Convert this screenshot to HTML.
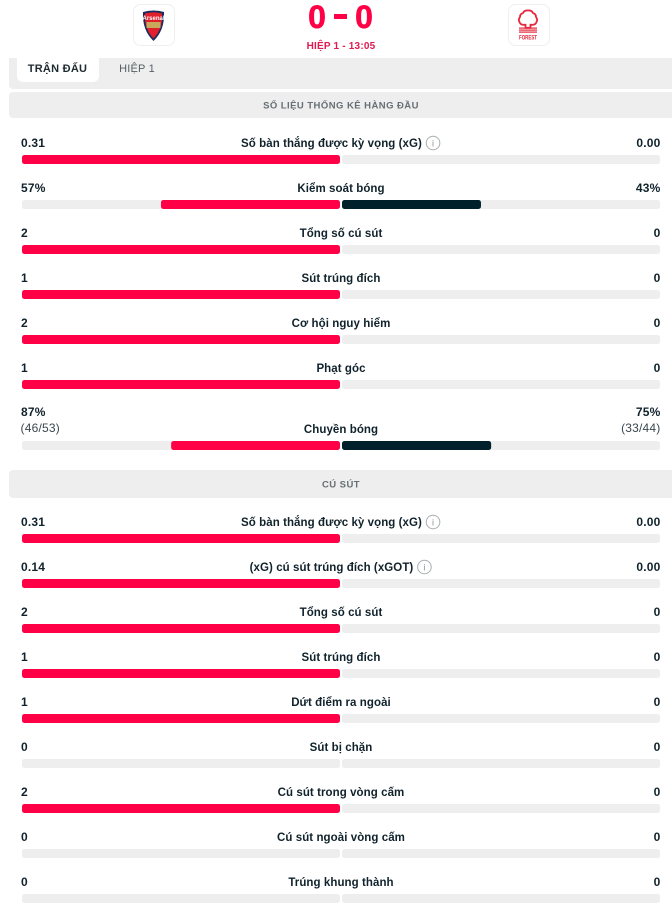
<!DOCTYPE html>
<html lang="vi">
<head>
<meta charset="utf-8">
<title>Thống kê trận đấu</title>
<style>
html,body{margin:0;padding:0;background:#fff;width:672px;height:904px;overflow:hidden}
svg{display:block;font-family:"Liberation Sans","Noto Sans CJK JP",sans-serif}
</style>
</head>
<body>
<svg id="chart" width="672" height="904" viewBox="0 0 672 904" xmlns="http://www.w3.org/2000/svg">
  <rect x="0" y="0" width="672" height="904" fill="#ffffff"/>

  <rect x="9" y="50" width="680" height="39" rx="4" fill="#eeeeee"/>
  <rect x="0" y="0" width="672" height="58" fill="#ffffff"/>
  <path d="M17 58H99V76a6 6 0 0 1-6 6H23a6 6 0 0 1-6-6Z" fill="#ffffff"/>
  <text x="57.500" y="72" text-anchor="middle" font-size="11" font-weight="700" letter-spacing=".25" fill="#1d2a30">TRẬN ĐẤU</text>
  <text x="137" y="72" text-anchor="middle" font-size="11" letter-spacing=".2" fill="#555f64">HIỆP 1</text>

  <g>
    <rect x="133.500" y="4.500" width="41" height="41" rx="7" fill="#fff" stroke="#efefef"/>
    <path d="M143 12Q153.500 9 164 12Q165 30 153.500 41Q142 30 143 12Z" fill="#1b2a5c"/>
    <path d="M145 13.500Q153.500 11 162 13.500Q163 29 153.500 38.500Q144 29 145 13.500Z" fill="#e0202c"/>
    <rect x="146.500" y="22" width="14" height="6" fill="#c8a85a"/>
    <text x="153.500" y="20" text-anchor="middle" font-size="6" font-weight="700" fill="#fff">Arsenal</text>
  </g>

  <text x="317" y="28" text-anchor="middle" font-size="32" font-weight="700" stroke="#ff0046" stroke-width=".6" fill="#ff0046">0</text>
  <rect x="334" y="14" width="13" height="5" fill="#ff0046"/>
  <text x="364" y="28" text-anchor="middle" font-size="32" font-weight="700" stroke="#ff0046" stroke-width=".6" fill="#ff0046">0</text>
  <text x="341" y="49" text-anchor="middle" font-size="10" font-weight="700" letter-spacing=".2" fill="#e0194f">HIỆP 1 - 13:05</text>

  <g>
    <rect x="508.500" y="4.500" width="41" height="41" rx="7" fill="#fff" stroke="#efefef"/>
    <path d="M528 10.500q3.500-.5 5 2.500q3 1 3 4q2 2.500 .5 5q-1 3-4.500 2.800h-1.500v3h-5v-3h-1.500q-3.500.2-4.500-2.800q-1.500-2.500 .5-5q0-3 3-4q1.500-3 5-2.500Z" fill="none" stroke="#e5283c" stroke-width="1.800"/>
    <rect x="519" y="27.500" width="18" height="1.200" fill="#e5283c"/>
    <rect x="519" y="29.500" width="18" height="1.200" fill="#e5283c"/>
    <rect x="519" y="31.500" width="18" height="1.200" fill="#e5283c"/>
    <text x="528" y="39.500" text-anchor="middle" font-size="6.500" font-weight="700" textLength="18" lengthAdjust="spacingAndGlyphs" fill="#e5283c">FOREST</text>
  </g>

  <g id="rows"></g>
</svg>

<script>
const sectionTitles = ["SỐ LIỆU THỐNG KÊ HÀNG ĐẦU", "CÚ SÚT"];
const statLabels = [
  ["Số bàn thắng được kỳ vọng (xG)", "Kiểm soát bóng", "Tổng số cú sút", "Sút trúng đích", "Cơ hội nguy hiểm", "Phạt góc", "Chuyền bóng"],
  ["Số bàn thắng được kỳ vọng (xG)", "(xG) cú sút trúng đích (xGOT)", "Tổng số cú sút", "Sút trúng đích", "Dứt điểm ra ngoài", "Sút bị chặn", "Cú sút trong vòng cấm", "Cú sút ngoài vòng cấm", "Trúng khung thành"]
];
const homeValues = [
  [0.31, 56.3, 2, 1, 2, 1, 53.1],
  [0.31, 0.14, 2, 1, 1, 0, 2, 0, 0]
];
const awayValues = [
  [0, 43.7, 0, 0, 0, 0, 46.9],
  [0, 0, 0, 0, 0, 0, 0, 0, 0]
];
const homeText = [
  ["0.31", "57%", "2", "1", "2", "1", "87%"],
  ["0.31", "0.14", "2", "1", "1", "0", "2", "0", "0"]
];
const awayText = [
  ["0.00", "43%", "0", "0", "0", "0", "75%"],
  ["0.00", "0.00", "0", "0", "0", "0", "0", "0", "0"]
];
const homeSubText = [["", "", "", "", "", "", "(46/53)"], ["", "", "", "", "", "", "", "", ""]];
const awaySubText = [["", "", "", "", "", "", "(33/44)"], ["", "", "", "", "", "", "", "", ""]];
const infoFlags = [[1, 0, 0, 0, 0, 0, 0], [1, 1, 0, 0, 0, 0, 0, 0, 0]];

const NS = "http://www.w3.org/2000/svg";
const root = document.getElementById("rows");
const TRACK = 318, CENTER_L = 340, CENTER_R = 342, ROW_H = 45;
const RED = "#ff0046", DARK = "#00202c", GREY = "#eeeeee", INK = "#10222b";

function make(tag, attrs, parent, text) {
  const el = document.createElementNS(NS, tag);
  for (const k in attrs) el.setAttribute(k, attrs[k]);
  if (text !== undefined) el.textContent = text;
  parent.appendChild(el);
  return el;
}
function shareScale(value, other) {
  const total = value + other;
  return total > 0 ? (value / total) * TRACK : 0;
}
function roundedBar(x, y, w, h, fill, parent) {
  return make("rect", { x: x, y: y, width: w, height: h, rx: 2.5, fill: fill }, parent);
}

let cursor = 92;
sectionTitles.forEach(function (title, s) {
  const headH = s === 0 ? 26 : 28;
  const head = make("rect", { x: 9, y: cursor, width: 680, height: headH, rx: 4, fill: GREY }, root);
  
  
  const headText = make("text", { x: 341, y: cursor + headH / 2 + 3.5, "text-anchor": "middle", "font-size": 9.5, "font-weight": 700, "letter-spacing": ".45", fill: "#666f73" }, root, title);
  
  

  let barY = cursor + (s === 0 ? 63 : 64);
  statLabels[s].forEach(function (label, i) {
    const isSub = homeSubText[s][i] !== "";
    if (isSub) barY += 16;
    const g = make("g", {}, root);
    
    
    const textY = barY - 8;
    const hasInfo = infoFlags[s][i] === 1;

    const name = make("text", { x: hasInfo ? 331.5 : 341, y: textY, "text-anchor": "middle", "font-size": 11.5, "font-weight": 700, "letter-spacing": ".07", fill: INK }, g, label);
    
    

    if (hasInfo) {
      const box = name.getBBox();
      const cx = box.x + box.width + 11;
      const icon = make("g", {}, g);
      
      
      make("circle", { cx: cx, cy: textY - 4, r: 6.8, fill: "none", stroke: "#a9aeb0", "stroke-width": 1 }, icon);
      make("text", { x: cx, y: textY - 0.500, "text-anchor": "middle", "font-size": 9, fill: "#8b9193" }, icon, "i");
    }

    const pctY = isSub ? textY - 17 : textY;
    const hv = make("text", { x: 21, y: pctY, "font-size": 12, "font-weight": 700, "letter-spacing": ".2", fill: INK }, g, homeText[s][i]);
    
    
    const av = make("text", { x: 660.500, y: pctY, "text-anchor": "end", "font-size": 12, "font-weight": 700, "letter-spacing": ".2", fill: INK }, g, awayText[s][i]);
    
    
    if (isSub) {
      const hs = make("text", { x: 20.500, y: textY - 1, "font-size": 12, fill: "#3a484f", "letter-spacing": ".2" }, g, homeSubText[s][i]);
      
      
      const as = make("text", { x: 660.500, y: textY - 1, "text-anchor": "end", "font-size": 12, fill: "#3a484f", "letter-spacing": ".2" }, g, awaySubText[s][i]);
      
      
    }

    const ht = roundedBar(CENTER_L - TRACK, barY, TRACK, 9, GREY, g);
    
    
    const at = roundedBar(CENTER_R, barY, TRACK, 9, GREY, g);
    
    

    const hw = shareScale(homeValues[s][i], awayValues[s][i]);
    const aw = shareScale(awayValues[s][i], homeValues[s][i]);
    if (hw > 0) {
      const hb = roundedBar(CENTER_L - hw, barY, hw, 9, RED, g);
      
      
    }
    if (aw > 0) {
      const ab = roundedBar(CENTER_R, barY, aw, 9, DARK, g);
      
      
    }
    barY += ROW_H;
  });
  cursor = barY - ROW_H + 29;
});
</script>
</body>
</html>
